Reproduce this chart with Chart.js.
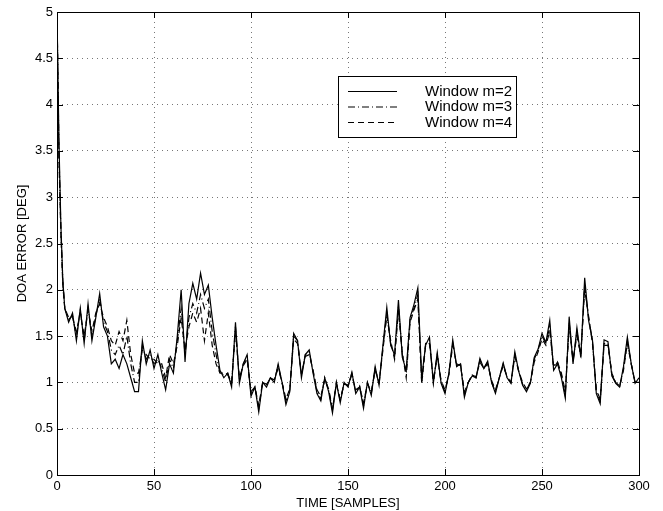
<!DOCTYPE html>
<html>
<head>
<meta charset="utf-8">
<script src="https://cdn.jsdelivr.net/npm/chart.js@4.4.1/dist/chart.umd.min.js"></script>
<style>
  html, body { margin: 0; padding: 0; background: #fff; }
  #wrap { width: 663px; height: 511px; }
</style>
</head>
<body>
<div id="wrap"><canvas id="grafico" width="663" height="511"></canvas></div>
<script>
// sample index (TIME [SAMPLES])
const tempos = [
  0, 1, 2, 3, 4,
  6, 8, 10, 12, 14, 16, 18, 20, 22, 24, 26, 28, 30, 32, 34, 36, 38, 40, 42, 44, 46, 48, 50,
  52, 54, 56, 58, 60, 62, 64, 66, 68, 70, 72, 74, 76, 78, 80, 82, 84, 86, 88, 90, 92, 94, 96, 98, 100,
  102, 104, 106, 108, 110, 112, 114, 116, 118, 120, 122, 124, 126, 128, 130, 132, 134, 136, 138, 140, 142, 144, 146, 148, 150,
  152, 154, 156, 158, 160, 162, 164, 166, 168, 170, 172, 174, 176, 178, 180, 182, 184, 186, 188, 190, 192, 194, 196, 198, 200,
  202, 204, 206, 208, 210, 212, 214, 216, 218, 220, 222, 224, 226, 228, 230, 232, 234, 236, 238, 240, 242, 244, 246, 248, 250,
  252, 254, 256, 258, 260, 262, 264, 266, 268, 270, 272, 274, 276, 278, 280, 282, 284, 286, 288, 290, 292, 294, 296, 298, 300
];

// DOA error [deg], window m=2
const janelaM2 = [
  5.0, 3.6, 2.7, 2.1, 1.8,
  1.65, 1.75, 1.45, 1.8, 1.42, 1.85, 1.45, 1.7, 1.96, 1.6, 1.5, 1.2, 1.25, 1.15, 1.3, 1.2, 1.05, 0.9, 0.9, 1.45, 1.2, 1.35, 1.15,
  1.3, 1.1, 0.92, 1.2, 1.1, 1.5, 2.0, 1.22, 1.85, 2.07, 1.9, 2.18, 1.95, 2.05, 1.7, 1.4, 1.13, 1.05, 1.1, 0.95, 1.65, 0.99, 1.2, 1.3, 0.85,
  0.95, 0.68, 1.0, 0.95, 1.05, 1.0, 1.2, 1.0, 0.76, 0.9, 1.53, 1.45, 1.05, 1.3, 1.35, 1.1, 0.88, 0.8, 1.05, 0.9, 0.67, 1.0, 0.78, 1.0, 0.95,
  1.11, 0.88, 0.95, 0.72, 1.0, 0.86, 1.17, 0.97, 1.4, 1.81, 1.4, 1.3, 1.89, 1.27, 1.13, 1.7, 1.84, 2.02, 1.05, 1.4, 1.49, 0.99, 1.32, 0.99, 0.88,
  1.1, 1.46, 1.17, 1.2, 0.84, 1.0, 1.07, 1.05, 1.26, 1.15, 1.23, 1.0, 0.88, 1.05, 1.21, 1.05, 0.99, 1.33, 1.12, 0.97, 0.9, 0.99, 1.27, 1.36, 1.53,
  1.43, 1.67, 1.13, 1.2, 1.05, 0.83, 1.71, 1.2, 1.59, 1.27, 2.13, 1.67, 1.46, 0.88, 0.77, 1.46, 1.44, 1.07, 0.99, 0.95, 1.17, 1.49, 1.2, 0.99, 1.05
];

// window m=3
const janelaM3 = [
  5.0, 3.5, 2.65, 2.1, 1.8,
  1.68, 1.72, 1.5, 1.78, 1.45, 1.8, 1.5, 1.72, 1.9, 1.65, 1.55, 1.35, 1.3, 1.4, 1.3, 1.5, 1.2, 1.0, 1.0, 1.4, 1.25, 1.3, 1.2,
  1.25, 1.15, 1.0, 1.25, 1.15, 1.45, 1.8, 1.3, 1.7, 1.85, 1.75, 1.95, 1.8, 1.9, 1.55, 1.3, 1.1, 1.08, 1.1, 0.98, 1.6, 1.02, 1.2, 1.28, 0.88,
  0.95, 0.72, 1.0, 0.97, 1.05, 1.02, 1.18, 1.0, 0.8, 0.92, 1.5, 1.45, 1.08, 1.3, 1.33, 1.12, 0.9, 0.82, 1.05, 0.92, 0.7, 1.0, 0.8, 1.0, 0.96,
  1.1, 0.9, 0.96, 0.75, 1.0, 0.88, 1.15, 0.98, 1.38, 1.75, 1.42, 1.28, 1.82, 1.3, 1.1, 1.68, 1.8, 1.95, 1.0, 1.42, 1.45, 1.0, 1.3, 1.0, 0.9,
  1.1, 1.43, 1.18, 1.2, 0.87, 1.0, 1.08, 1.05, 1.24, 1.15, 1.22, 1.0, 0.9, 1.05, 1.2, 1.05, 1.0, 1.3, 1.12, 0.98, 0.92, 1.0, 1.25, 1.35, 1.5,
  1.42, 1.6, 1.15, 1.22, 1.08, 0.86, 1.65, 1.22, 1.55, 1.28, 2.05, 1.7, 1.45, 0.9, 0.8, 1.42, 1.42, 1.08, 1.0, 0.95, 1.15, 1.45, 1.2, 1.0, 1.02
];

// window m=4
const janelaM4 = [
  5.0, 3.4, 2.6, 2.05, 1.8,
  1.7, 1.7, 1.55, 1.75, 1.5, 1.78, 1.55, 1.75, 1.85, 1.7, 1.6, 1.45, 1.4, 1.55, 1.45, 1.67, 1.3, 1.1, 1.1, 1.35, 1.3, 1.25, 1.25,
  1.2, 1.2, 1.05, 1.3, 1.2, 1.4, 1.7, 1.35, 1.6, 1.75, 1.65, 1.8, 1.45, 1.75, 1.4, 1.2, 1.1, 1.1, 1.08, 1.0, 1.55, 1.05, 1.18, 1.25, 0.9,
  0.95, 0.75, 1.0, 0.98, 1.04, 1.03, 1.15, 1.0, 0.82, 0.93, 1.47, 1.42, 1.1, 1.28, 1.3, 1.13, 0.92, 0.85, 1.03, 0.93, 0.72, 0.98, 0.82, 0.98, 0.97,
  1.08, 0.92, 0.95, 0.78, 0.98, 0.9, 1.13, 1.0, 1.35, 1.72, 1.45, 1.25, 1.78, 1.32, 1.05, 1.65, 1.78, 1.9, 0.98, 1.4, 1.42, 1.02, 1.28, 1.02, 0.92,
  1.08, 1.4, 1.2, 1.18, 0.9, 1.0, 1.08, 1.06, 1.22, 1.15, 1.2, 1.02, 0.92, 1.05, 1.18, 1.06, 1.0, 1.28, 1.12, 1.0, 0.93, 1.0, 1.22, 1.33, 1.47,
  1.4, 1.55, 1.18, 1.22, 1.1, 0.9, 1.6, 1.25, 1.5, 1.3, 2.0, 1.72, 1.42, 0.92, 0.82, 1.4, 1.4, 1.1, 1.0, 0.96, 1.13, 1.42, 1.2, 1.0, 1.0
];

const rotulos = ['Window m=2', 'Window m=3', 'Window m=4'];
const tracos = [[], [7, 3, 1, 3], [6, 4]];
const xTicks = [0, 50, 100, 150, 200, 250, 300];
const yTicks = [0, 0.5, 1, 1.5, 2, 2.5, 3, 3.5, 4, 4.5, 5];

const FONTE = '"Liberation Sans", Arial, Helvetica, sans-serif';

function criarDataset(label, valores, dash, ordem) {
    return {
        label,
        data: tempos.map((t, i) => ({ x: t, y: valores[i] })),
        borderColor: '#000',
        borderWidth: 1.2,
        borderDash: dash,
        pointRadius: 0,
        tension: 0,
        fill: false,
        order: ordem
    };
}

// frame, inward ticks and boxed legend, drawn matlab-style
const molduraPlugin = {
    id: 'moldura',
    afterDatasetsDraw(chart) {
        const { ctx, chartArea: a, scales } = chart;
        ctx.save();
        ctx.strokeStyle = '#000';
        ctx.lineWidth = 1;
        ctx.setLineDash([]);
        ctx.strokeRect(Math.round(a.left) + 0.5, Math.round(a.top) + 0.5,
            Math.round(a.right - a.left), Math.round(a.bottom - a.top));
        ctx.beginPath();
        xTicks.forEach(v => {
            const px = Math.round(scales.x.getPixelForValue(v)) + 0.5;
            ctx.moveTo(px, a.bottom); ctx.lineTo(px, a.bottom - 6);
            ctx.moveTo(px, a.top); ctx.lineTo(px, a.top + 6);
        });
        yTicks.forEach(v => {
            const py = Math.round(scales.y.getPixelForValue(v)) + 0.5;
            ctx.moveTo(a.left, py); ctx.lineTo(a.left + 6, py);
            ctx.moveTo(a.right, py); ctx.lineTo(a.right - 6, py);
        });
        ctx.stroke();

        // legend box
        const bx = 338.5, by = 76.5, bw = 178, bh = 61;
        ctx.fillStyle = '#fff';
        ctx.fillRect(bx, by, bw, bh);
        ctx.strokeRect(bx, by, bw, bh);
        ctx.font = '15px ' + FONTE;
        ctx.textBaseline = 'middle';
        ctx.textAlign = 'left';
        rotulos.forEach((r, i) => {
            const ly = 91.5 + i * 15.5;
            ctx.beginPath();
            ctx.lineWidth = 1.2;
            ctx.setLineDash(tracos[i]);
            ctx.moveTo(348, ly); ctx.lineTo(397, ly);
            ctx.stroke();
            ctx.setLineDash([]);
            ctx.fillStyle = '#000';
            ctx.fillText(r, 425, ly);
        });
        ctx.restore();
    }
};

new Chart(document.getElementById('grafico').getContext('2d'), {
    type: 'line',
    data: {
        datasets: [
            criarDataset(rotulos[0], janelaM2, tracos[0], 1),
            criarDataset(rotulos[1], janelaM3, tracos[1], 2),
            criarDataset(rotulos[2], janelaM4, tracos[2], 3)
        ]
    },
    options: {
        responsive: false,
        animation: false,
        layout: { padding: { top: 12, right: 24, left: 15, bottom: 0 } },
        plugins: { legend: { display: false }, tooltip: { enabled: false } },
        scales: {
            x: {
                type: 'linear',
                min: 0, max: 300,
                afterBuildTicks: s => { s.ticks = xTicks.map(v => ({ value: v })); },
                afterFit: s => { s.height = 36; },
                grid: { color: '#777', lineWidth: 1, drawTicks: false },
                border: { display: false, dash: [1, 4] },
                ticks: { color: '#000', font: { family: FONTE, size: 13 }, padding: 4, maxRotation: 0 },
                title: { display: true, text: 'TIME [SAMPLES]', color: '#000', font: { family: FONTE, size: 13 }, padding: { top: 0, bottom: 0 } }
            },
            y: {
                min: 0, max: 5,
                afterBuildTicks: s => { s.ticks = yTicks.map(v => ({ value: v })); },
                afterFit: s => { s.width = 42; },
                grid: { color: '#777', lineWidth: 1, drawTicks: false },
                border: { display: false, dash: [1, 4] },
                ticks: { color: '#000', font: { family: FONTE, size: 13 }, padding: 4, callback: v => String(v) },
                title: { display: true, text: 'DOA ERROR [DEG]', color: '#000', font: { family: FONTE, size: 13 }, padding: { top: 0, bottom: 0 } }
            }
        }
    },
    plugins: [molduraPlugin]
});
</script>
</body>
</html>
